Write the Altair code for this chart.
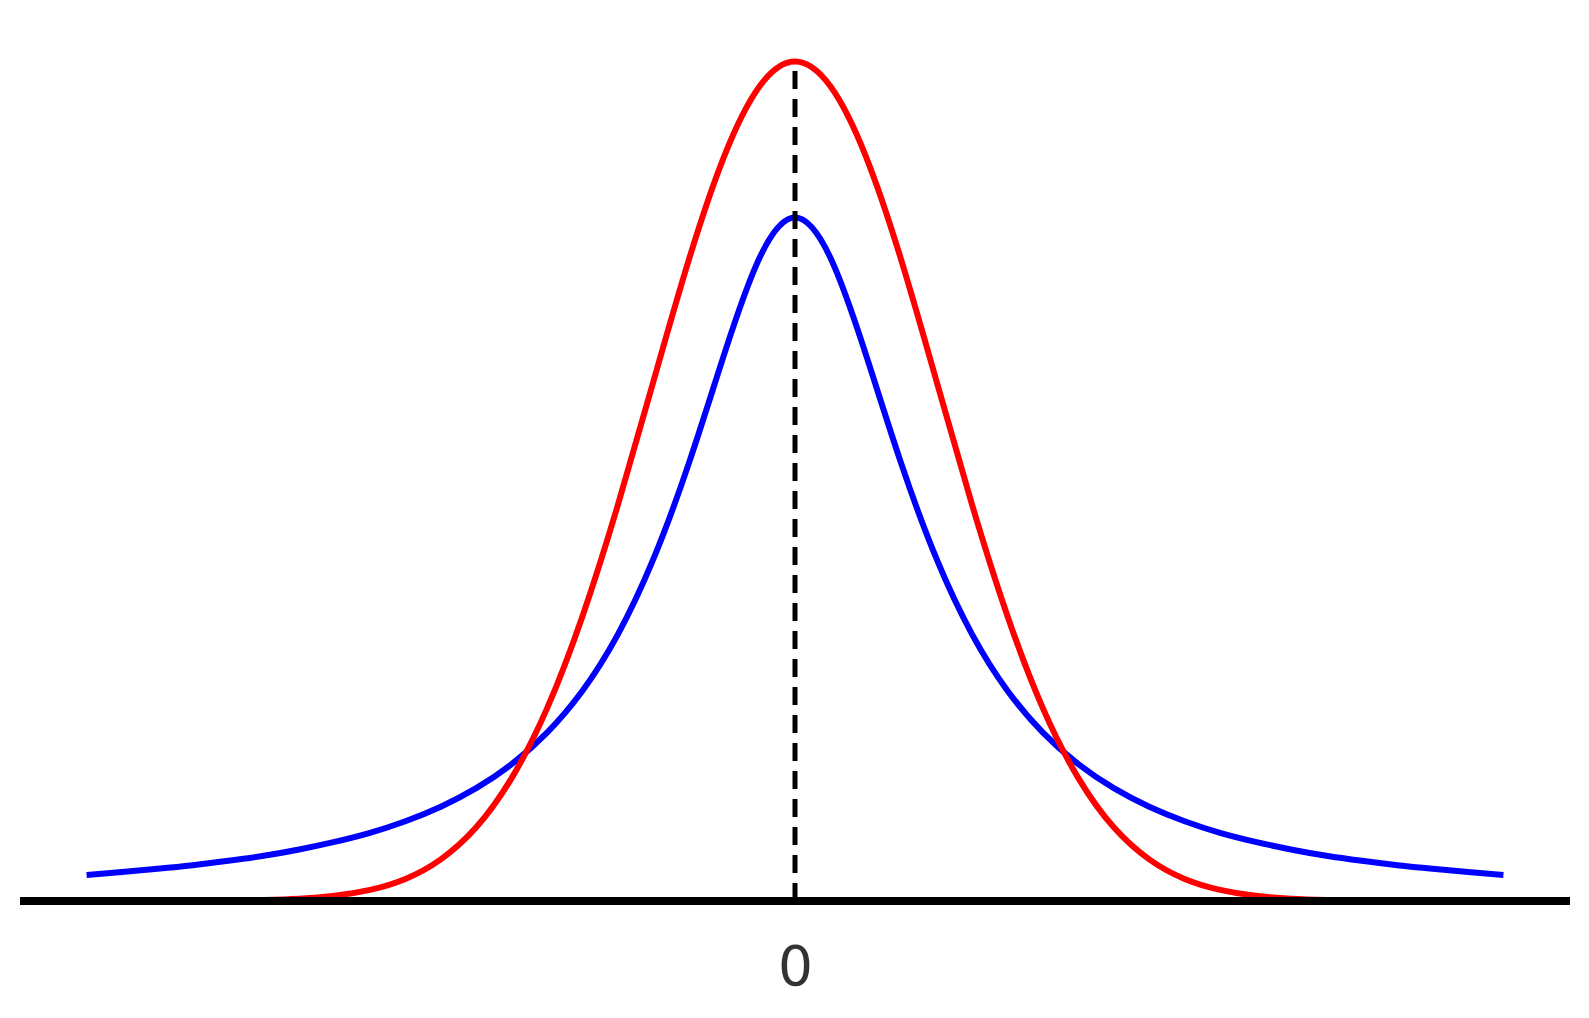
import altair as alt
import pandas as pd

# x positions (shared) and curve heights
xs = [-5.0, -4.75, -4.5, -4.25, -4.0, -3.75, -3.5, -3.25, -3.0, -2.75, -2.5, -2.25, -2.0,
      -1.75, -1.5, -1.25, -1.0, -0.75, -0.5, -0.25, 0.0, 0.25, 0.5, 0.75, 1.0, 1.25, 1.5,
      1.75, 2.0, 2.25, 2.5, 2.75, 3.0, 3.25, 3.5, 3.75, 4.0, 4.25, 4.5, 4.75, 5.0]
red_half = [0.3989, 0.3871, 0.3538, 0.3045, 0.2467, 0.1882, 0.1353, 0.0915, 0.0584, 0.0350,
            0.0198, 0.0105, 0.0053, 0.0025, 0.0011, 0.0005, 0.0002, 0.0001, 0.0000, 0.0000, 0.0000]
blue_half = [0.3247, 0.3056, 0.2597, 0.2078, 0.1624, 0.1267, 0.0999, 0.0800, 0.0650, 0.0536,
             0.0448, 0.0379, 0.0324, 0.0281, 0.0245, 0.0215, 0.0191, 0.0170, 0.0153, 0.0138, 0.0124]
red_vals = red_half[::-1] + red_half[1:]
blue_vals = blue_half[::-1] + blue_half[1:]

axis_min, axis_max = -5.47, 5.47
peak_x = 0.0
peak_y = 0.3989
tick_values = [0]

curves = pd.DataFrame({"x": xs, "red": red_vals, "blue": blue_vals})

xscale = alt.Scale(domain=[axis_min, axis_max], nice=False, zero=False)
yscale = alt.Scale(domain=[0, 0.42], nice=False)

base = alt.Chart(curves)

blue_line = base.mark_line(color="#0000ff", strokeWidth=6, interpolate="natural").encode(
    x=alt.X("x:Q", scale=xscale,
            axis=alt.Axis(values=tick_values, format="d", title=None, domain=False, ticks=False,
                          grid=False, labelFontSize=55, labelFont="DejaVu Sans",
                          labelColor="#333333", labelPadding=40)),
    y=alt.Y("blue:Q", scale=yscale, axis=None),
)
red_line = base.mark_line(color="#ff0000", strokeWidth=6, interpolate="natural").encode(
    x=alt.X("x:Q", scale=xscale),
    y=alt.Y("red:Q", scale=yscale),
)

baseline_df = pd.DataFrame({"x": [axis_min], "x2": [axis_max], "y": [0.0]})
baseline = alt.Chart(baseline_df).mark_rule(color="black", strokeWidth=8).encode(
    x=alt.X("x:Q", scale=xscale), x2="x2:Q", y=alt.Y("y:Q", scale=yscale)
)

dash_df = pd.DataFrame({"x": [peak_x], "y": [0.0], "y2": [peak_y]})
dashed = alt.Chart(dash_df).mark_rule(color="black", strokeWidth=5, strokeDash=[18, 10]).encode(
    x=alt.X("x:Q", scale=xscale), y=alt.Y("y:Q", scale=yscale), y2="y2:Q"
)

chart = alt.layer(blue_line, red_line, baseline, dashed).properties(
    width=1550, height=884,
    padding={"left": 12, "top": 9, "right": 0, "bottom": 100},
    autosize=alt.AutoSizeParams(type="none"),
).configure_view(stroke=None)

chart.save("out.html", embed_options={"renderer": "svg", "actions": False})
